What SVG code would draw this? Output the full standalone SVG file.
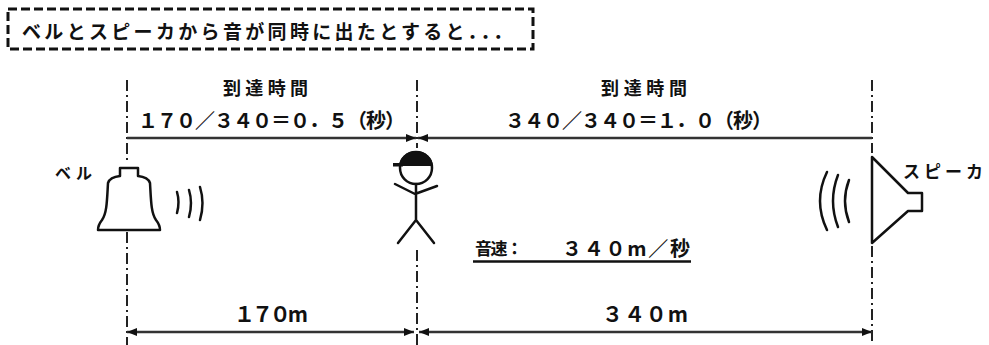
<svg xmlns="http://www.w3.org/2000/svg" width="989" height="345" viewBox="0 0 989 345">
  <style>
    .jp { font-family: "Noto Sans CJK JP", "Liberation Sans", sans-serif; fill: #111; }
    .b { font-weight: 700; }
    .ink { fill: none; stroke: #111; stroke-width: 2.5; stroke-linecap: round; stroke-linejoin: round; }
    .guide { fill: none; stroke: #222; stroke-width: 2; stroke-dasharray: 11 4 2 4; }
    .dim { fill: none; stroke: #333; stroke-width: 2.5; }
  </style>
  <defs>
    <marker id="ah" viewBox="0 0 10 8" refX="10" refY="4" markerWidth="10" markerHeight="8" markerUnits="userSpaceOnUse" orient="auto-start-reverse">
      <path d="M0,0 L10,4 L0,8 Z" fill="#111"/>
    </marker>
  </defs>
  <rect width="989" height="345" fill="#fff"/>

  <!-- caption box -->
  <g id="caption">
    <rect x="8" y="9" width="525" height="40" fill="none" stroke="#111" stroke-width="3" stroke-dasharray="9 4"/>
    <text class="jp b" x="22" y="39" font-size="19" textLength="490" lengthAdjust="spacing">ベルとスピーカから音が同時に出たとすると．．．</text>
  </g>

  <!-- dash-dot position guides -->
  <g id="guides">
    <path class="guide" d="M127,80 V160 M127,232 V345"/>
    <path class="guide" d="M417,80 V148 M417,250 V345"/>
    <path class="guide" d="M872,80 V153 M872,246 V345"/>
  </g>

  <!-- dimension lines -->
  <g id="connectors">
    <line class="dim" x1="127" y1="138" x2="416" y2="138" marker-end="url(#ah)"/>
    <line class="dim" x1="872" y1="138" x2="418" y2="138" marker-end="url(#ah)"/>
    <line class="dim" x1="127" y1="332" x2="414" y2="332" marker-start="url(#ah)" marker-end="url(#ah)"/>
    <line class="dim" x1="419" y1="332" x2="872" y2="332" marker-start="url(#ah)" marker-end="url(#ah)"/>
  </g>

  <!-- arrival time labels -->
  <g id="time-left">
    <text class="jp b" x="223" y="95" font-size="18" textLength="85" lengthAdjust="spacing">到達時間</text>
    <text class="jp b" x="138" y="128" font-size="20" textLength="267" lengthAdjust="spacing">１７０／３４０＝０．５（秒）</text>
  </g>
  <g id="time-right">
    <text class="jp b" x="601" y="95" font-size="18" textLength="86" lengthAdjust="spacing">到達時間</text>
    <text class="jp b" x="505" y="128" font-size="20" textLength="267" lengthAdjust="spacing">３４０／３４０＝１．０（秒）</text>
  </g>

  <!-- bell -->
  <g id="bell">
    <text class="jp b" x="55" y="179" font-size="16" textLength="37" lengthAdjust="spacing">ベル</text>
    <path class="ink" d="M120,176 L120,168 L138,168 L138,176 Q148,177 150,183 C151,200 151,213 156,220 Q160,225 160,230 L98,230 Q98,225 102,220 C107,213 107,200 108,183 Q110,177 120,176 Z" style="fill:#fff"/>
    <path class="ink" d="M177,192 Q180,202 177,213 M189,190 Q193,203 189,217 M200,187 Q205,203 200,220"/>
  </g>

  <!-- listener -->
  <g id="listener">
    <circle class="ink" cx="416" cy="168" r="16"/>
    <path d="M399,166 A17,15 0 0 1 433,166 Z" fill="#111"/>
    <rect x="393" y="163" width="10" height="3.5" fill="#111"/>
    <path class="ink" d="M416,184 V220 M395,184 L415,194 L437,186 M416,220 L398,243 M416,220 L434,243"/>
  </g>

  <!-- speaker -->
  <g id="speaker">
    <path class="ink" d="M872,157 L908,193 L922,193 L922,211 L908,211 L872,243 Z"/>
    <path class="ink" d="M827,172 Q813,201 827,230 M838,175 Q828,201 838,227 M849,180 Q841,201 849,222"/>
    <text class="jp b" x="903" y="178" font-size="17" textLength="80" lengthAdjust="spacing">スピーカ</text>
  </g>

  <!-- speed of sound -->
  <g id="speed">
    <text class="jp b" x="475" y="255" font-size="17" textLength="48" lengthAdjust="spacing">音速：</text>
    <text class="jp b" x="562" y="256" font-size="20" textLength="128" lengthAdjust="spacing">３４０m／秒</text>
    <line x1="473" y1="261.5" x2="691" y2="261.5" stroke="#111" stroke-width="2.5"/>
  </g>

  <!-- distances -->
  <g id="distances">
    <text class="jp b" x="271" y="322" font-size="21" text-anchor="middle" textLength="74" lengthAdjust="spacing">１７０m</text>
    <text class="jp b" x="645" y="322" font-size="21" text-anchor="middle" textLength="86" lengthAdjust="spacing">３４０m</text>
  </g>
</svg>
